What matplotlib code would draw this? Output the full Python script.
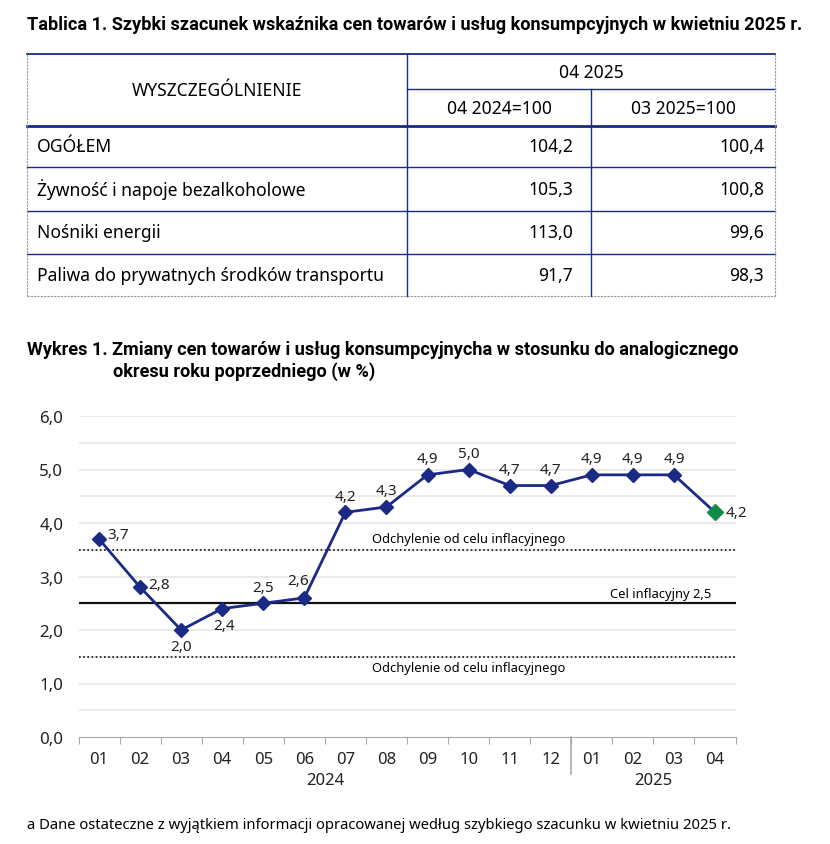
import numpy as np
import matplotlib
matplotlib.use('Agg')
import matplotlib.pyplot as plt

plt.rcParams['font.family'] = ['Noto Sans', 'DejaVu Sans']

# --- dane ---
tab_rows = ['OGÓŁEM', 'Żywność i napoje bezalkoholowe', 'Nośniki energii',
            'Paliwa do prywatnych środków transportu']
tab_r2024 = ['104,2', '105,3', '113,0', '91,7']
tab_m2025 = ['100,4', '100,8', '99,6', '98,3']

miesiace = ['01', '02', '03', '04', '05', '06', '07', '08', '09', '10', '11', '12',
            '01', '02', '03', '04']
lata = ['2024', '2025']
wartosci = [3.7, 2.8, 2.0, 2.4, 2.5, 2.6, 4.2, 4.3, 4.9, 5.0, 4.7, 4.7, 4.9, 4.9, 4.9, 4.2]
cel = 2.5
odchylenie = [3.5, 1.5]

navy = '#1b2a84'
green = '#128a45'
W, H = 830, 845

fig = plt.figure(figsize=(W / 100, H / 100), dpi=100)

# warstwa na tabelę i teksty, w pikselach
ov = fig.add_axes([0, 0, 1, 1])
ov.set_xlim(0, W)
ov.set_ylim(H, 0)
ov.axis('off')

tfont = ['Roboto', 'DejaVu Sans']
ov.text(27, 25, 'Tablica 1. Szybki szacunek wskaźnika cen towarów i usług konsumpcyjnych w kwietniu 2025 r.',
        fontsize=13.1, fontweight='bold', va='center', ha='left', family=tfont)

# tabela
xl, x1, x2, xr = 27, 407, 591, 775
yt, ys, yh = 55, 90, 127
rows_y = [127, 168, 212, 255, 297]
lc = navy
ov.plot([xl, xr], [yt, yt], color=lc, lw=1.3)
ov.plot([x1, xr], [ys, ys], color=lc, lw=1)
ov.plot([xl, xr], [yh, yh], color=lc, lw=2)
for y in rows_y[1:-1]:
    ov.plot([xl, xr], [y, y], color=lc, lw=1)
ov.plot([xl, xr], [rows_y[-1], rows_y[-1]], color='#999999', lw=0.8, ls=(0, (2, 1)))
ov.plot([xl, xl], [yt, rows_y[-1]], color='#999999', lw=0.8, ls=(0, (2, 1)))
ov.plot([xr, xr], [yt, rows_y[-1]], color='#999999', lw=0.8, ls=(0, (2, 1)))
ov.plot([x1, x1], [yt, rows_y[-1]], color=lc, lw=1)
ov.plot([x2, x2], [ys, rows_y[-1]], color=lc, lw=1)

fs = 12.6
ov.text((xl + x1) / 2, (yt + yh) / 2, 'WYSZCZEGÓLNIENIE', ha='center', va='center', fontsize=fs)
ov.text((x1 + xr) / 2, (yt + ys) / 2, '04 2025', ha='center', va='center', fontsize=fs)
ov.text((x1 + x2) / 2, (ys + yh) / 2, '04 2024=100', ha='center', va='center', fontsize=fs)
ov.text((x2 + xr) / 2, (ys + yh) / 2, '03 2025=100', ha='center', va='center', fontsize=fs)
for i, name in enumerate(tab_rows):
    yc = (rows_y[i] + rows_y[i + 1]) / 2
    ov.text(37, yc, name, ha='left', va='center', fontsize=fs)
    ov.text(x2 - 18, yc, tab_r2024[i], ha='right', va='center', fontsize=fs)
    ov.text(xr - 11, yc, tab_m2025[i], ha='right', va='center', fontsize=fs)

ov.text(27, 350, 'Wykres 1. Zmiany cen towarów i usług konsumpcyjnycha w stosunku do analogicznego',
        fontsize=13.1, fontweight='bold', va='center', ha='left', family=tfont)
ov.text(113, 372, 'okresu roku poprzedniego (w %)',
        fontsize=13.1, fontweight='bold', va='center', ha='left', family=tfont)
ov.text(27, 826, 'a Dane ostateczne z wyjątkiem informacji opracowanej według szybkiego szacunku w kwietniu 2025 r.',
        fontsize=10.65, va='center', ha='left')

# --- wykres ---
ax = fig.add_axes([78.5 / W, (H - 738) / H, 657 / W, 321 / H])
x = np.arange(len(wartosci))
ax.set_xlim(-0.5, len(wartosci) - 0.5)
ax.set_ylim(0, 6)
for s in ['top', 'right', 'left']:
    ax.spines[s].set_visible(False)
ax.spines['bottom'].set_color('#aaaaaa')
ax.set_yticks(np.arange(0, 6.01, 1.0))
ax.set_yticklabels([f'{v:.1f}'.replace('.', ',') for v in np.arange(0, 6.01, 1.0)], fontsize=12.2)
for g in np.arange(0.5, 6.01, 0.5):
    ax.axhline(g, color='#e6e6e6', lw=1.2, zorder=0)
ax.tick_params(axis='y', length=0, pad=11, colors='#222222')

ax.set_xticks(np.arange(-0.5, len(wartosci) + 0.5, 1.0))
ax.set_xticklabels([])
ax.tick_params(axis='x', direction='out', length=5, color='#aaaaaa')
for i, m in enumerate(miesiace):
    ax.text(i, -0.42, m, ha='center', va='center', fontsize=12, color='#222222')
ax.text(5.5, -0.8, lata[0], ha='center', va='center', fontsize=12, color='#222222')
ax.text(13.5, -0.8, lata[1], ha='center', va='center', fontsize=12, color='#222222')
ax.plot([11.5, 11.5], [0, -0.7], color='#aaaaaa', lw=1.2, clip_on=False)

# linie celu
ax.axhline(cel, color='#111111', lw=1.6, zorder=1)
for o in odchylenie:
    ax.axhline(o, color='#111111', lw=1.2, ls=(0, (1, 1.5)), zorder=1)
ax.text(9, odchylenie[0] + 0.08, 'Odchylenie od celu inflacyjnego', ha='center', va='bottom', fontsize=9.3)
ax.text(9, odchylenie[1] - 0.08, 'Odchylenie od celu inflacyjnego', ha='center', va='top', fontsize=9.3)
ax.text(14.9, cel + 0.06, 'Cel inflacyjny 2,5', ha='right', va='bottom', fontsize=9.3)

ax.plot(x, wartosci, color=navy, lw=2, marker='D', ms=7, zorder=3)
ax.plot(x[-1:], wartosci[-1:], ls='none', marker='D', ms=8.5, color=green, zorder=4)

# położenie etykiet
offs = {0: (0.2, 0.08, 'left'), 1: (0.2, 0.05, 'left'), 2: (0, -0.3, 'center'),
        3: (0.05, -0.32, 'center'), 4: (0, 0.3, 'center'), 5: (-0.15, 0.33, 'center'),
        15: (0.25, 0.0, 'left')}
for i, v in enumerate(wartosci):
    dx, dy, ha = offs.get(i, (0, 0.3, 'center'))
    ax.text(i + dx, v + dy, f'{v:.1f}'.replace('.', ','), ha=ha, va='center', fontsize=11, color='#222222')

fig.savefig('out.png', dpi=100)
